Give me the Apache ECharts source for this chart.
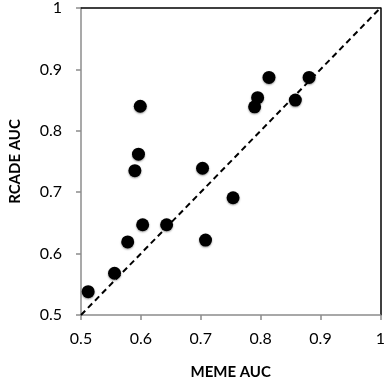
<!DOCTYPE html>
<html><head><meta charset="utf-8">
<script src="https://cdn.jsdelivr.net/npm/echarts@6/dist/echarts.min.js"></script>
<style>html,body{margin:0;padding:0;background:#fff}#c{width:388px;height:385px}</style>
</head><body><div id="c"></div>
<script>
const memeAUC  = [0.599,0.814,0.881,0.795,0.790,0.858,0.596,0.590,0.703,0.754,0.603,0.643,0.578,0.708,0.556,0.512];
const rcadeAUC = [0.840,0.887,0.887,0.854,0.839,0.850,0.762,0.735,0.739,0.691,0.647,0.647,0.619,0.622,0.568,0.538];
const diagonal = [[0.5,0.5],[1,1]];
const xTicks = [0.5,0.6,0.7,0.8,0.9,1];
const yTicks = [0.5,0.6,0.7,0.8,0.9,1];
const font = 'Lato, "Open Sans", sans-serif';
const points = memeAUC.map((x,i)=>[x, rcadeAUC[i]]);
const chart = echarts.init(document.getElementById('c'));
const fmt = v => (v===1?'1':v.toFixed(1));
chart.setOption({
  animation:false,
  grid:{left:79,right:1,top:8,bottom:69},
  xAxis:[{
    type:'value',min:0.5,max:1,interval:0.1,
    name:'MEME AUC',nameLocation:'middle',nameGap:50,
    nameTextStyle:{fontFamily:font,fontWeight:'bold',fontSize:15,color:'#000'},
    axisLine:{lineStyle:{color:'#8c8c8c',width:1.5}},
    axisTick:{show:true,inside:false,length:5,lineStyle:{color:'#8c8c8c',width:1.5}},
    axisLabel:{margin:16,fontFamily:font,fontSize:16,color:'#000',formatter:fmt,showMaxLabel:true},
    splitLine:{show:false}
  },{
    type:'value',min:0.5,max:1,position:'top',
    axisLine:{lineStyle:{color:'#000',width:1.5}},axisTick:{show:false},axisLabel:{show:false},splitLine:{show:false}
  }],
  yAxis:[{
    type:'value',min:0.5,max:1,interval:0.1,
    name:'RCADE AUC',nameLocation:'middle',nameGap:58,
    nameTextStyle:{fontFamily:font,fontWeight:'bold',fontSize:15,color:'#000'},
    axisLine:{show:true,lineStyle:{color:'#8c8c8c',width:1.5}},
    axisTick:{show:true,inside:false,length:5,lineStyle:{color:'#8c8c8c',width:1.5}},
    axisLabel:{margin:19,fontFamily:font,fontSize:16,color:'#000',formatter:fmt},
    splitLine:{show:false}
  },{
    type:'value',min:0.5,max:1,position:'right',
    axisLine:{show:true,lineStyle:{color:'#000',width:1.5}},axisTick:{show:false},axisLabel:{show:false},splitLine:{show:false}
  }],
  series:[{
    type:'line',data:diagonal,symbol:'none',xAxisIndex:0,yAxisIndex:0,
    lineStyle:{color:'#000',width:2,type:[6,4]},z:1
  },{
    type:'scatter',data:points,symbolSize:13,xAxisIndex:0,yAxisIndex:0,
    itemStyle:{color:'#000',opacity:1,shadowBlur:2,shadowColor:'rgba(0,0,0,0.4)',shadowOffsetY:1},z:2
  }]
});
</script></body></html>
